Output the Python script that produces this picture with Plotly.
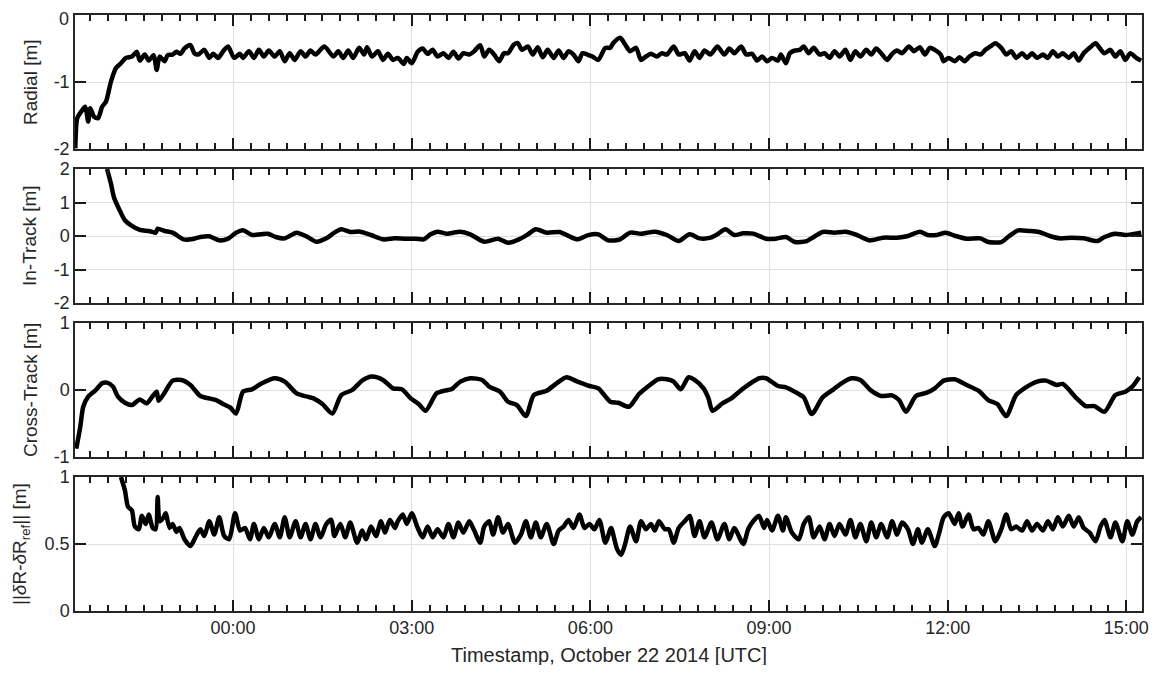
import pandas as pd
import plotly.graph_objects as go
from plotly.subplots import make_subplots

# ---------------- data (time in minutes from 2014-10-22 00:00 UTC) ----------------
radial_t = [-159, -157, -153, -149, -146, -144, -140, -136, -132, -128, -123, -118, -113, -108, -102, -97, -94, -89, -85, -80,
            -77, -74, -69, -66, -61, -57, -53, -49, -43, -39, -35, -29, -24, -20, -15, -10, -5, 1, 7, 10,
            16, 21, 26, 31, 36, 42, 47, 52, 57, 62, 68, 73, 78, 83, 92, 101, 106, 111, 116, 121,
            127, 132, 135, 140, 146, 151, 156, 161, 166, 172, 175, 180, 186, 191, 196, 201, 206, 212, 217, 222,
            227, 232, 238, 243, 249, 253, 258, 263, 268, 273, 277, 283, 287, 291, 297, 302, 307, 312, 317, 323,
            328, 333, 338, 343, 348, 352, 357, 362, 368, 375,
            380, 383, 390, 395, 400, 406, 411, 416, 421, 427, 432, 437, 444, 449, 455, 460, 465, 470, 475, 481,
            488, 495, 500, 505, 512, 517, 523, 528, 533, 538, 543, 549, 552, 557, 561, 566, 571, 575, 580, 585,
            591, 596, 601, 606, 611, 617, 622, 627, 632, 638, 643, 648, 653, 659, 664, 669, 674, 681, 686, 692,
            697, 702, 707, 713, 716, 721, 727, 732, 737, 742, 748, 753, 758, 763, 768, 774, 779, 784, 789, 795,
            800, 805, 810, 816, 821, 826, 831, 836, 842, 847, 852, 857, 863, 869, 873, 878, 884, 889, 894, 899,
            904, 910, 915]
radial_v = [-1.99, -1.54, -1.44, -1.37, -1.59, -1.39, -1.52, -1.54, -1.37, -1.29, -0.99, -0.79, -0.72, -0.64, -0.62, -0.55, -0.68, -0.59, -0.68, -0.60,
            -0.82, -0.62, -0.69, -0.60, -0.59, -0.55, -0.58, -0.50, -0.45, -0.57, -0.59, -0.52, -0.64, -0.58, -0.64, -0.54, -0.47, -0.64, -0.58, -0.64,
            -0.54, -0.64, -0.52, -0.62, -0.53, -0.62, -0.54, -0.69, -0.57, -0.67, -0.54, -0.62, -0.53, -0.59, -0.47, -0.62, -0.54, -0.64, -0.53, -0.64,
            -0.49, -0.59, -0.48, -0.62, -0.54, -0.67, -0.58, -0.67, -0.64, -0.73, -0.64, -0.72, -0.55, -0.50, -0.58, -0.52, -0.62, -0.57, -0.64, -0.55,
            -0.65, -0.57, -0.59, -0.54, -0.45, -0.62, -0.52, -0.59, -0.69, -0.57, -0.57, -0.44, -0.42, -0.52, -0.47, -0.59, -0.48, -0.63, -0.52, -0.64,
            -0.53, -0.64, -0.54, -0.59, -0.69, -0.57, -0.59, -0.62, -0.67, -0.49,
            -0.49, -0.42, -0.34, -0.44, -0.54, -0.49, -0.67, -0.62, -0.58, -0.62, -0.57, -0.59, -0.47, -0.59, -0.57, -0.68, -0.54, -0.64, -0.53, -0.59,
            -0.47, -0.59, -0.50, -0.57, -0.47, -0.59, -0.58, -0.68, -0.62, -0.69, -0.64, -0.68, -0.59, -0.72, -0.57, -0.53, -0.52, -0.47, -0.57, -0.49,
            -0.59, -0.57, -0.64, -0.54, -0.62, -0.52, -0.67, -0.54, -0.62, -0.52, -0.59, -0.50, -0.57, -0.67, -0.58, -0.53, -0.57, -0.47, -0.54, -0.48,
            -0.59, -0.49, -0.52, -0.59, -0.69, -0.64, -0.69, -0.63, -0.69, -0.62, -0.57, -0.59, -0.52, -0.47, -0.42, -0.49, -0.59, -0.54, -0.64, -0.57,
            -0.64, -0.57, -0.64, -0.59, -0.64, -0.54, -0.62, -0.57, -0.64, -0.57, -0.68, -0.57, -0.49, -0.42, -0.49, -0.57, -0.52, -0.62, -0.54, -0.67,
            -0.57, -0.64, -0.68]

intrack_t = [-127, -123, -120, -114, -109, -102, -94, -85, -78, -76, -69, -61, -50, -42, -33, -24, -14, -5, 3, 10,
             19, 28, 35, 43, 52, 64, 75, 84, 94, 102, 109, 118, 128, 139, 151, 163, 173, 184, 192, 199,
             206, 215, 229, 239, 253, 267, 277, 288, 297, 305, 316, 329, 338, 347, 357, 368, 378,
             390, 400, 411, 425, 437, 449, 460, 470, 481, 488, 496, 505, 514, 524, 537, 547, 557, 566, 578,
             585, 594, 606, 617, 627, 641, 655, 669, 680, 692, 700, 709, 718, 728, 739, 753, 761, 774, 782, 791,
             802, 812, 823, 833, 845, 857, 871, 878, 889, 899, 915]
intrack_v = [2.00, 1.55, 1.15, 0.75, 0.47, 0.30, 0.18, 0.15, 0.10, 0.22, 0.15, 0.10, -0.10, -0.10, -0.03, -0.01, -0.13, -0.08, 0.10, 0.17,
             0.03, 0.05, 0.07, -0.03, -0.07, 0.10, -0.03, -0.17, -0.07, 0.10, 0.20, 0.12, 0.13, 0.03, -0.10, -0.07, -0.08, -0.08, -0.10, 0.05,
             0.13, 0.07, 0.13, 0.05, -0.17, -0.08, -0.20, -0.10, 0.05, 0.20, 0.10, 0.12, 0.00, -0.10, 0.02, 0.05, -0.13,
             -0.10, 0.10, 0.07, 0.13, 0.03, -0.15, 0.05, -0.07, -0.05, 0.05, 0.20, 0.03, 0.08, 0.07, -0.08, -0.08, -0.03, -0.18, -0.15,
             -0.03, 0.12, 0.10, 0.13, 0.05, -0.13, -0.05, -0.05, 0.00, 0.13, 0.03, 0.03, 0.10, 0.00, -0.08, -0.07, -0.18, -0.18, 0.00, 0.17,
             0.15, 0.12, 0.00, -0.07, -0.05, -0.07, -0.15, -0.03, 0.07, 0.03, 0.10]

cross_t = [-158, -154, -151, -146, -139, -132, -127, -121, -116, -109, -102, -94, -87, -81, -77, -75, -69, -61, -52, -43,
           -33, -24, -17, -10, -3, 3, 10, 19, 29, 42, 52, 64, 75, 81, 90, 100, 109, 120, 130, 140,
           151, 161, 170, 179, 187, 194, 205, 213, 220, 229, 239, 251, 258, 269, 277, 286, 295, 303, 316, 326,
           336, 347, 359, 368, 380,
           388, 399, 409, 420, 428, 437, 444, 451, 459, 465, 474, 479, 483, 493, 502, 510, 519, 530, 537, 549,
           557, 566, 575, 583, 594, 605, 613, 623, 632, 643, 653, 664, 671, 678, 688, 699, 707, 716, 727, 739,
           751, 761, 770, 779, 789, 800, 810, 819, 830, 836, 850, 859, 868, 878, 889, 899, 906, 913]
cross_v = [-0.875, -0.55, -0.25, -0.10, -0.01, 0.10, 0.11, 0.05, -0.10, -0.19, -0.225, -0.14, -0.20, -0.09, -0.025, -0.16, -0.04, 0.14, 0.15, 0.075,
           -0.09, -0.125, -0.15, -0.21, -0.26, -0.35, -0.025, 0.01, 0.10, 0.175, 0.125, -0.05, -0.10, -0.125, -0.21, -0.35, -0.075, 0.00, 0.14, 0.20,
           0.15, 0.025, 0.01, -0.125, -0.21, -0.31, -0.05, -0.01, 0.01, 0.125, 0.175, 0.15, 0.05, -0.025, -0.175, -0.225, -0.39, -0.075, -0.01, 0.10,
           0.19, 0.125, 0.06, 0.025, -0.175,
           -0.19, -0.25, -0.06, 0.075, 0.16, 0.16, 0.125, 0.01, 0.19, 0.15, 0.025, -0.125, -0.31, -0.20, -0.125, -0.025, 0.075, 0.175, 0.175, 0.06,
           0.04, -0.025, -0.11, -0.36, -0.11, 0.01, 0.10, 0.175, 0.15, -0.01, -0.09, -0.08, -0.15, -0.325, -0.09, -0.04, 0.025, 0.14, 0.16, 0.075,
           -0.01, -0.15, -0.21, -0.39, -0.075, 0.05, 0.125, 0.14, 0.075, 0.09, -0.125, -0.24, -0.24, -0.325, -0.075, -0.025, 0.05, 0.19]

norm_t = [-113, -109, -106, -102, -99, -95, -92, -88, -85, -81, -78, -76, -74, -70, -68, -64, -61, -57, -54, -49,
          -43, -38, -33, -29, -24, -19, -14, -9, -4, 2, 7, 12, 17, 21, 26, 31, 36, 42, 47, 52,
          57, 63, 68, 73, 78, 83, 88, 94, 99, 102, 108, 113, 118, 125, 130, 134, 139, 144, 149, 153,
          158, 163, 166, 171, 175, 180, 186, 191, 196, 201, 206, 212, 217, 222, 227, 232, 238, 243, 249, 253,
          258, 262, 267, 272, 277, 284, 290, 295, 300, 305, 310, 316, 323, 328, 333, 338, 343, 349, 354, 359,
          364, 369, 375, 380,
          381, 387, 391, 395, 400, 406, 411, 416, 421, 425, 429, 435, 439, 444, 449, 455, 460, 465, 470, 475,
          482, 488, 495, 500, 505, 514, 519, 524, 530, 535, 538, 543, 549, 554, 557, 563, 570, 575, 580, 585,
          591, 596, 601, 606, 611, 617, 622, 627, 632, 638, 643, 648, 653, 659, 664, 669, 674, 680, 685, 690,
          694, 700, 707, 711, 716, 721, 727, 731, 735, 741, 746, 751, 756, 761, 768, 774, 779, 784, 789, 795,
          800, 805, 810, 816, 821, 826, 831, 836, 842, 847, 852, 857, 863, 869, 874, 878, 884, 889, 896, 901,
          906, 911, 915]
norm_v = [1.00, 0.90, 0.78, 0.75, 0.63, 0.61, 0.71, 0.65, 0.72, 0.62, 0.61, 0.85, 0.67, 0.70, 0.73, 0.62, 0.65, 0.59, 0.62, 0.535,
          0.485, 0.55, 0.61, 0.56, 0.67, 0.57, 0.70, 0.56, 0.535, 0.73, 0.60, 0.62, 0.535, 0.65, 0.535, 0.62, 0.55, 0.65, 0.55, 0.70,
          0.55, 0.67, 0.55, 0.65, 0.535, 0.65, 0.55, 0.65, 0.68, 0.56, 0.65, 0.55, 0.66, 0.51, 0.60, 0.535, 0.63, 0.56, 0.67, 0.585,
          0.68, 0.62, 0.67, 0.72, 0.65, 0.73, 0.62, 0.55, 0.63, 0.55, 0.61, 0.55, 0.65, 0.55, 0.66, 0.585, 0.67, 0.60, 0.51, 0.63,
          0.67, 0.57, 0.70, 0.585, 0.65, 0.51, 0.57, 0.67, 0.55, 0.66, 0.55, 0.65, 0.50, 0.60, 0.63, 0.68, 0.62, 0.72, 0.62, 0.65,
          0.61, 0.68, 0.51, 0.61,
          0.62, 0.46, 0.42, 0.50, 0.63, 0.52, 0.67, 0.61, 0.65, 0.60, 0.67, 0.61, 0.61, 0.51, 0.62, 0.67, 0.71, 0.56, 0.67, 0.55,
          0.66, 0.535, 0.65, 0.535, 0.62, 0.50, 0.61, 0.67, 0.71, 0.62, 0.68, 0.60, 0.71, 0.60, 0.70, 0.585, 0.535, 0.65, 0.70, 0.55,
          0.63, 0.535, 0.65, 0.56, 0.65, 0.57, 0.68, 0.55, 0.65, 0.52, 0.66, 0.55, 0.65, 0.55, 0.67, 0.57, 0.66, 0.61, 0.50, 0.61,
          0.51, 0.61, 0.485, 0.57, 0.70, 0.73, 0.65, 0.73, 0.63, 0.72, 0.61, 0.62, 0.57, 0.67, 0.52, 0.61, 0.72, 0.61, 0.63, 0.60,
          0.67, 0.60, 0.65, 0.60, 0.67, 0.61, 0.70, 0.63, 0.71, 0.63, 0.70, 0.62, 0.585, 0.52, 0.63, 0.68, 0.55, 0.66, 0.52, 0.67,
          0.57, 0.67, 0.70]

y_titles = ["Radial [m]", "In-Track [m]", "Cross-Track [m]", "||<i>δ</i>R-<i>δ</i>R<sub>ref</sub>|| [m]"]
y_ranges = [[-2, 0], [-2, 2], [-1, 1], [0, 1]]
y_tickvals = [[-2, -1, 0], [-2, -1, 0, 1, 2], [-1, 0, 1], [0, 0.5, 1]]
y_ticktext = [["-2", "-1", ""], ["-2", "-1", "0", "1", "2"], ["-1", "0", "1"], ["0", "0.5", "1"]]
top_label = "0"   # top tick label of the Radial panel, drawn as an annotation so it stays inside the page
x_title = "Timestamp, October 22 2014 [UTC]"
x_range_min = [-159.3, 915.8]

base = pd.Timestamp("2014-10-22 00:00:00")
BASE_STR = "2014-10-22 00:00:00"


def to_time(mins):
    return [(base + pd.Timedelta(minutes=m)).strftime("%Y-%m-%d %H:%M:%S") for m in mins]


series = [(radial_t, radial_v), (intrack_t, intrack_v), (cross_t, cross_v), (norm_t, norm_v)]

FONT = "Liberation Sans, Arial, Helvetica, sans-serif"
TXT = "#262626"
GRID = "#dfdfdf"

fig = make_subplots(rows=4, cols=1, shared_xaxes=True, vertical_spacing=20 / 596)

for i, (t, v) in enumerate(series):
    fig.add_trace(go.Scatter(x=to_time(t), y=v, mode="lines",
                             line=dict(color="black", width=4.5, shape="spline", smoothing=0.7),
                             showlegend=False, hoverinfo="skip"), row=i + 1, col=1)

xr = to_time(x_range_min)
for i in range(4):
    fig.update_xaxes(row=i + 1, col=1, type="date", range=xr, automargin=False,
                     tick0=BASE_STR, dtick=3 * 3600 * 1000, tickformat="%H:%M",
                     ticks="inside", ticklen=11, tickwidth=1.5, tickcolor="#1a1a1a",
                     showline=True, linecolor=TXT, linewidth=1.5, mirror="allticks",
                     showgrid=True, gridcolor=GRID, gridwidth=1, zeroline=False,
                     showticklabels=(i == 3), ticklabeloverflow="allow",
                     tickfont=dict(family=FONT, size=18, color=TXT),
                     minor=dict(ticks="inside", ticklen=6, tickwidth=1.5, tickcolor="#1a1a1a",
                                dtick=18 * 60 * 1000, showgrid=False))
    fig.update_yaxes(row=i + 1, col=1, range=y_ranges[i], automargin=False,
                     tickvals=y_tickvals[i], ticktext=y_ticktext[i],
                     ticks="inside", ticklen=11, tickwidth=1.5, tickcolor="#1a1a1a",
                     showline=True, linecolor=TXT, linewidth=1.5, mirror="allticks",
                     showgrid=True, gridcolor=GRID, gridwidth=1, zeroline=False,
                     ticklabeloverflow="allow",
                     tickfont=dict(family=FONT, size=18, color=TXT))

# the page body has an 8 px margin, so the figure is drawn 8 px in from the window corner
label_x = [30, 30, 30, 21]
annotations = []
for i in range(4):
    yref = "y domain" if i == 0 else f"y{i + 1} domain"
    annotations.append(dict(text=y_titles[i], xref="paper", yref=yref,
                            x=(label_x[i] - 75) / 1067, y=0.5, xanchor="center", yanchor="middle",
                            textangle=-90, showarrow=False,
                            font=dict(family=FONT, size=19, color=TXT)))
annotations.append(dict(text=top_label, xref="paper", yref="y", x=0, y=y_ranges[0][1],
                        xanchor="right", yanchor="middle", xshift=-5, yshift=-4, borderpad=0,
                        showarrow=False, font=dict(family=FONT, size=18, color=TXT)))
annotations.append(dict(text=x_title, xref="paper", yref="paper",
                        x=0.5, y=(611 - 655) / 596, xanchor="center", yanchor="middle",
                        showarrow=False, font=dict(family=FONT, size=20, color=TXT)))

fig.update_layout(template="none", width=1141, height=657,
                  margin=dict(l=67, r=7, t=7, b=54, pad=0),
                  paper_bgcolor="white", plot_bgcolor="white",
                  annotations=annotations, showlegend=False)

fig.write_html("out.html")
